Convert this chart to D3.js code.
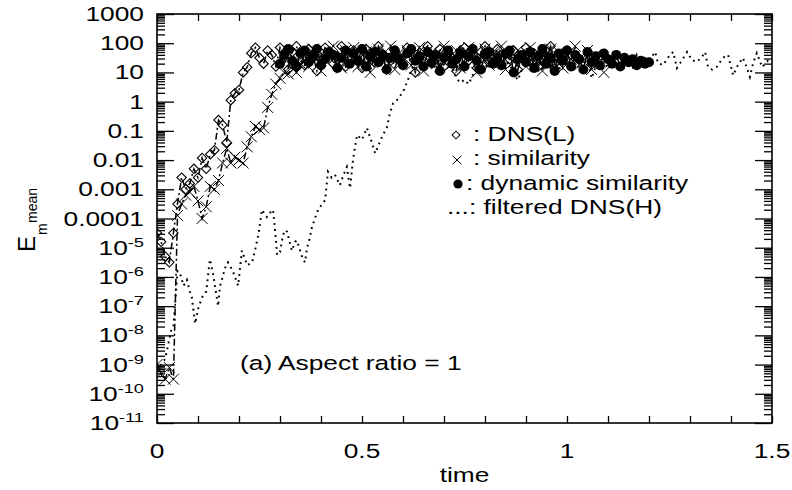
<!DOCTYPE html>
<html><head><meta charset="utf-8">
<script src="https://cdn.jsdelivr.net/npm/d3@7"></script>
<style>body{margin:0;background:#fff} svg{display:block} text{font-family:"Liberation Sans",Arial,sans-serif;fill:#000}</style>
</head><body>
<svg id="chart" width="792" height="490"></svg>
<script>
// ---------- DATA (values are log10 of E_m^mean) ----------
const xTickValues = [0, 0.5, 1, 1.5];
const xTickLabels = ["0", "0.5", "1", "1.5"];
const yTickValues = [1e3, 1e2, 1e1, 1, 1e-1, 1e-2, 1e-3, 1e-4, 1e-5, 1e-6, 1e-7, 1e-8, 1e-9, 1e-10, 1e-11];
const yTickLabels = ["1000", "100", "10", "1", "0.1", "0.01", "0.001", "0.0001", "10^-5", "10^-6", "10^-7", "10^-8", "10^-9", "10^-10", "10^-11"];
const legendLabels = [": DNS(L)", ": similarity", ": dynamic similarity", "...: filtered DNS(H)"];

// DNS(L): open diamonds, starts t=0, step 0.01
const dnsLStart = 0, dnsLStep = 0.01;
const dnsLLog = [-4.5,-4.8,-5.3,-5.5,-4.5,-3.5,-2.6,-3.0,-2.8,-2.3,
  -2.6,-1.93,-2.3,-1.8,-1.66,-0.63,-0.8,-1.4,0.05,0.29,
  0.4,1.0,1.18,1.66,1.85,1.5,
  1.3,1.75,1.6,1.2,1.85,1.5,1.1,1.7,1.9,1.4,1.25,1.8,1.6,1.05,1.5,1.85,1.7,1.3,1.55,1.9,
  1.2,1.45,1.75,1.6,1.15,1.8,1.5,1.35,1.9,1.65,1.1,1.4,1.75,1.55,1.25,1.85,1.6,1.0,1.45,1.7,
  1.9,1.3,1.55,1.8,1.2,1.65,1.5,1.05,1.75,1.85,1.4,1.6,1.15,1.7,1.9,1.35,1.5,1.8,1.25,1.6,
  1.45,1.75,1.1,1.55,1.85,1.4,1.65,1.2,1.7,1.5,1.9,1.3,1.6,1.45,1.75];

// similarity: crosses, starts t=0, step 0.01
const simStart = 0, simStep = 0.01;
const simLog = [-9.0,-9.3,-9.5,-9.1,-9.5,-3.9,-3.5,-3.2,-3.1,-2.9,
  -3.4,-4.0,-3.6,-2.9,-3.0,-2.7,-2.1,-1.6,-2.1,-1.9,
  -2.0,-2.1,-1.55,-1.2,-0.85,-0.95,-0.9,-0.2,0.25,0.6,
  0.8,1.0,0.95,1.2,1.0,1.3,
  1.6,1.2,1.8,1.45,1.05,1.7,1.5,1.9,1.3,1.15,1.75,1.55,1.85,1.2,1.4,1.7,1.0,1.6,1.8,1.35,
  1.5,1.9,1.1,1.65,1.45,1.75,1.25,1.55,1.85,1.05,1.4,1.7,1.6,1.2,1.9,1.5,1.3,1.75,1.15,1.65,
  1.85,1.4,1.0,1.55,1.8,1.25,1.7,1.45,1.9,1.1,1.6,1.35,1.75,1.5,1.2,1.85,1.4,1.65,1.05,1.55,
  1.8,1.3,1.7,1.15,1.6,1.45,1.9,1.25,1.5,1.75,1.1,1.6,1.35,1.0];

// dynamic similarity: filled circles, starts t=0.30, step 0.01
const dynStart = 0.30, dynStep = 0.01;
const dynLog = [1.3,1.6,1.8,1.4,1.2,1.65,1.75,1.35,1.55,1.8,1.25,1.45,1.7,1.6,1.15,1.5,1.75,1.3,
  1.65,1.4,1.8,1.2,1.55,1.7,1.35,1.6,1.1,1.5,1.75,1.45,1.25,1.65,1.8,1.4,1.55,1.2,1.7,1.35,
  1.6,1.05,1.5,1.75,1.3,1.45,1.65,1.2,1.55,1.8,1.4,1.1,1.6,1.7,1.3,1.5,1.25,1.65,1.75,1.0,
  1.45,1.6,1.35,1.7,1.15,1.55,1.8,1.3,1.5,1.05,1.65,1.4,1.75,1.2,1.6,1.45,1.1,1.7,1.35,1.55,
  1.25,1.65,1.45,1.3,1.6,1.2,1.5,1.35,1.45,1.25,1.4,1.3,1.35];

// filtered DNS(H): dotted line, irregular times
const dnsHTime = [0,0.02,0.035,0.04,0.05,0.056,0.065,0.073,0.08,0.085,0.093,0.1,0.11,0.12,0.129,0.137,0.149,0.154,0.166,0.173,
  0.185,0.198,0.207,0.22,0.232,0.239,0.248,0.256,0.268,0.276,0.283,0.288,0.293,0.3,0.307,0.312,0.317,0.329,0.337,0.341,
  0.356,0.361,0.366,0.372,0.378,0.385,0.393,0.41,0.417,0.426,0.434,0.446,0.455,0.463,0.471,0.478,0.483,0.488,0.5,0.512,
  0.524,0.532,0.54,0.549,0.561,0.568,0.576,0.585,0.6,0.612,0.62,
  0.63,0.64,0.65,0.66,0.67,0.68,0.69,0.70,0.71,0.72,0.73,0.74,0.75,0.76,0.77,0.78,0.79,0.80,0.81,0.82,
  0.83,0.84,0.85,0.86,0.87,0.88,0.89,0.90,0.91,0.92,0.93,0.94,0.95,0.96,0.97,0.98,0.99,1.00,1.01,1.02,
  1.03,1.04,1.05,1.06,1.07,1.08,1.09,1.10,1.11,1.12,1.13,1.14,1.15,1.16,1.17,1.18,1.19,1.20,
  1.215,1.222,1.234,1.251,1.259,1.268,1.276,1.293,1.305,1.317,1.329,1.337,1.344,1.354,1.366,1.38,1.393,1.402,1.405,1.417,
  1.429,1.439,1.446,1.454,1.463,1.476,1.49,1.5];
const dnsHLog = [-9.2,-8.8,-7.8,-7.7,-5.8,-5.87,-6.3,-6.1,-6.5,-6.7,-7.6,-7.1,-6.7,-6.5,-5.4,-5.9,-7.0,-6.3,-5.7,-5.5,
  -5.8,-6.3,-5.1,-5.6,-5.5,-5.1,-4.5,-3.7,-3.95,-3.8,-3.7,-4.4,-5.25,-5.15,-4.6,-4.4,-4.45,-5.1,-4.8,-4.75,
  -5.4,-5.5,-5.0,-4.7,-4.3,-4.0,-3.7,-3.37,-2.4,-2.6,-2.5,-2.86,-2.5,-2.24,-2.96,-2.0,-1.55,-1.14,-1.3,-0.9,
  -1.4,-1.77,-1.5,-1.2,-0.87,-0.4,-0.05,0.05,0.33,0.74,1.1,
  1.3,1.5,1.2,1.6,1.4,1.1,1.5,1.3,1.6,1.2,0.8,0.65,0.75,0.6,0.9,1.2,1.4,1.1,1.5,1.3,
  1.6,1.2,1.4,1.3,0.98,0.74,1.1,1.3,1.5,1.2,1.4,1.3,1.6,1.2,1.4,1.1,1.3,1.5,1.2,1.4,
  1.1,1.3,1.5,0.8,1.2,1.4,1.1,1.3,1.5,1.2,1.4,1.3,1.5,1.2,1.6,1.3,1.5,1.4,
  1.7,1.32,1.25,1.6,1.7,1.15,1.32,1.7,1.42,1.36,1.53,1.7,1.18,1.1,1.2,1.5,1.6,1.08,0.9,1.25,
  1.5,1.15,0.85,1.32,1.66,1.18,1.4,1.3];

// ---------- CHART ----------
const SX = 1.35; // horizontal stretch of the text in the original
const L = 157, R = 772, T = 14, B = 423;
const x = d3.scaleLinear().domain([0, 1.5]).range([L, R]);
const y = d3.scaleLog().domain([1e-11, 1e3]).range([B, T]);
const svg = d3.select("#chart");

svg.append("defs").append("clipPath").attr("id", "plot")
  .append("rect").attr("x", L).attr("y", T).attr("width", R - L).attr("height", B - T);

function toPts(start, step, logs) { return logs.map((v, i) => ({t: start + i * step, v: Math.pow(10, v)})); }
const dnsL = toPts(dnsLStart, dnsLStep, dnsLLog);
const sim = toPts(simStart, simStep, simLog);
const dyn = toPts(dynStart, dynStep, dynLog);
const dnsH = dnsHTime.map((t, i) => ({t, v: Math.pow(10, dnsHLog[i])}));

const line = d3.line().x(d => x(d.t)).y(d => y(d.v));
const plot = svg.append("g").attr("clip-path", "url(#plot)");

// filtered DNS(H)
plot.append("path").datum(dnsH).attr("d", line).attr("fill", "none")
  .attr("stroke", "#000").attr("stroke-width", 2).attr("stroke-dasharray", "1.8,4.2");

// DNS(L)
plot.append("path").datum(dnsL).attr("d", line).attr("fill", "none")
  .attr("stroke", "#000").attr("stroke-width", 1.5).attr("stroke-dasharray", "7,3,2,3");
plot.append("g").selectAll("path").data(dnsL).join("path")
  .attr("transform", d => `translate(${x(d.t)},${y(d.v)}) rotate(45)`)
  .attr("d", d3.symbol().type(d3.symbolSquare).size(44)())
  .attr("fill", "none").attr("stroke", "#000").attr("stroke-width", 1.1);

// similarity
plot.append("path").datum(sim).attr("d", line).attr("fill", "none")
  .attr("stroke", "#000").attr("stroke-width", 1.5).attr("stroke-dasharray", "7,3,2,3");
const crossPath = d3.symbol().type(d3.symbolX).size(80)();
plot.append("g").selectAll("path").data(sim).join("path")
  .attr("transform", d => `translate(${x(d.t)},${y(d.v)})`)
  .attr("d", crossPath).attr("fill", "none").attr("stroke", "#000").attr("stroke-width", 1);

// dynamic similarity
plot.append("path").datum(dyn).attr("d", line).attr("fill", "none")
  .attr("stroke", "#000").attr("stroke-width", 1.5);
plot.append("g").selectAll("circle").data(dyn).join("circle")
  .attr("cx", d => x(d.t)).attr("cy", d => y(d.v)).attr("r", 5).attr("fill", "#000");

// ---------- AXES ----------
const minorVals = [];
yTickValues.slice(1).forEach(v => { for (let k = 2; k <= 9; k++) minorVals.push(v * k); });
function axisStyle(g) { g.select(".domain").remove(); g.selectAll("line").attr("stroke", "#000").attr("stroke-width", 1.3); g.selectAll("text").remove(); }
svg.append("g").attr("transform", `translate(${L},0)`).call(d3.axisLeft(y).tickValues(yTickValues).tickSize(-17).tickFormat("")).call(axisStyle);
svg.append("g").attr("transform", `translate(${L},0)`).call(d3.axisLeft(y).tickValues(minorVals).tickSize(-8).tickFormat("")).call(axisStyle);
svg.append("g").attr("transform", `translate(${R},0)`).call(d3.axisRight(y).tickValues(yTickValues).tickSize(-17).tickFormat("")).call(axisStyle);
svg.append("g").attr("transform", `translate(${R},0)`).call(d3.axisRight(y).tickValues(minorVals).tickSize(-8).tickFormat("")).call(axisStyle);
const xMinor = d3.range(0, 16).map(i => i / 10);
svg.append("g").attr("transform", `translate(0,${B})`).call(d3.axisBottom(x).tickValues(xMinor).tickSize(-7).tickFormat("")).call(axisStyle);
svg.append("g").attr("transform", `translate(0,${T})`).call(d3.axisTop(x).tickValues(xMinor).tickSize(-7).tickFormat("")).call(axisStyle);

svg.append("rect").attr("x", L).attr("y", T).attr("width", R - L).attr("height", B - T)
  .attr("fill", "none").attr("stroke", "#000").attr("stroke-width", 1.6);

// ---------- TEXT ----------
function stext(px, py, size, anchor) {
  return svg.append("text").attr("transform", `translate(${px},${py}) scale(${SX},1)`)
    .attr("font-size", size).attr("text-anchor", anchor);
}
yTickValues.forEach((v, i) => {
  const lab = yTickLabels[i];
  const t = stext(144, y(v) + 7, 19.5, "end");
  if (lab.includes("^")) {
    const [b, e] = lab.split("^");
    t.append("tspan").text(b);
    t.append("tspan").attr("dy", -8).attr("font-size", 13.5).text(e);
  } else t.text(lab);
});
xTickValues.forEach((v, i) => stext(x(v), 458, 19.5, "middle").text(xTickLabels[i]));
stext((L + R) / 2, 482, 19.5, "middle").text("time");

// y label E_m^mean (rotated)
const yl = svg.append("g").attr("transform", "translate(35,252) rotate(-90)");
yl.append("text").attr("font-size", 24).text("E");
yl.append("text").attr("x", 17).attr("y", 12).attr("font-size", 14).text("m");
yl.append("text").attr("x", 29).attr("y", 2).attr("font-size", 14).text("mean");

// legend
const legY = [141, 165, 190, 214];
svg.append("path").attr("d", d3.symbol().type(d3.symbolSquare).size(30)())
  .attr("transform", `translate(456,${legY[0] - 6}) rotate(45)`).attr("fill", "none").attr("stroke", "#000").attr("stroke-width", 1);
svg.append("path").attr("d", d3.symbol().type(d3.symbolX).size(50)())
  .attr("transform", `translate(457,${legY[1] - 5})`).attr("fill", "none").attr("stroke", "#000").attr("stroke-width", 1);
svg.append("circle").attr("cx", 458).attr("cy", legY[2] - 6).attr("r", 4.6).attr("fill", "#000");
stext(473, legY[0], 19.5, "start").text(legendLabels[0]);
stext(473, legY[1], 19.5, "start").text(legendLabels[1]);
stext(466, legY[2], 19.5, "start").text(legendLabels[2]);
stext(447, legY[3], 19.5, "start").text(legendLabels[3]);

stext(240, 370, 19.5, "start").text("(a) Aspect ratio = 1");
</script>
</body></html>
